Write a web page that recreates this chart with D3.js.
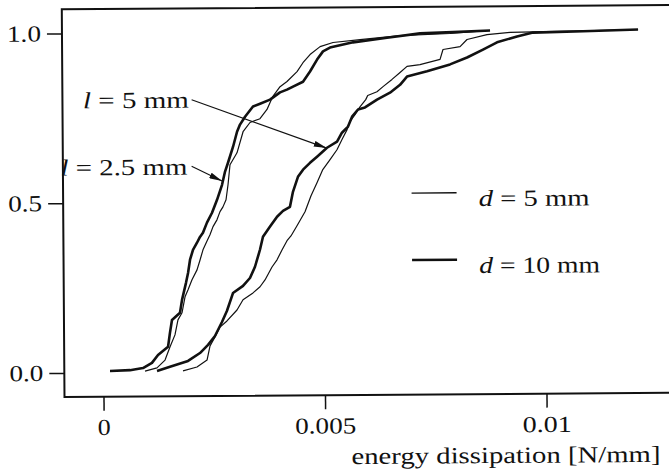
<!DOCTYPE html>
<html>
<head>
<meta charset="utf-8">
<script src="https://cdn.jsdelivr.net/npm/d3@7"></script>
<style>
  body { margin: 0; background: #fff; }
  svg { display: block; }
  text { font-family: "Liberation Serif", serif; font-size: 23px; fill: #111; }
</style>
</head>
<body>
<div id="chart"></div>
<script>
// cumulative distributions of energy dissipation, l = 2.5 / 5 mm, d = 5 / 10 mm

// points: [energy dissipation (N/mm), cumulative fraction]
var l25_d10 = [[0.000151,0.005],[0.000603,0.007],[0.000896,0.013],[0.001099,0.028],[0.001237,0.051],[0.001465,0.075],[0.001510,0.116],[0.001558,0.154],[0.001740,0.175],[0.001788,0.213],[0.001880,0.263],[0.001928,0.292],[0.001975,0.331],[0.002043,0.360],[0.002135,0.381],[0.002203,0.398],[0.002271,0.410],[0.002363,0.440],[0.002479,0.469],[0.002594,0.507],[0.002709,0.551],[0.002779,0.590],[0.002847,0.616],[0.002964,0.663],[0.003056,0.707],[0.003124,0.728],[0.003239,0.751],[0.003420,0.781],[0.003580,0.789],[0.003806,0.801],[0.004032,0.822],[0.004190,0.830],[0.004327,0.839],[0.004553,0.853],[0.004713,0.883],[0.004874,0.918],[0.005009,0.942],[0.005167,0.953],[0.005688,0.968],[0.006456,0.981],[0.007201,0.993],[0.007946,0.996],[0.008783,1.0]];

var l25_d5 = [[0.000941,0.004],[0.001212,0.013],[0.001395,0.036],[0.001510,0.075],[0.001623,0.110],[0.001693,0.154],[0.001786,0.175],[0.001856,0.222],[0.001923,0.242],[0.002016,0.272],[0.002131,0.301],[0.002201,0.330],[0.002269,0.360],[0.002361,0.386],[0.002429,0.404],[0.002499,0.428],[0.002589,0.448],[0.002659,0.472],[0.002727,0.486],[0.002797,0.507],[0.002844,0.551],[0.002892,0.610],[0.003052,0.645],[0.003192,0.707],[0.003350,0.734],[0.003576,0.745],[0.003736,0.772],[0.003867,0.810],[0.004034,0.839],[0.004192,0.854],[0.004420,0.883],[0.004555,0.909],[0.004716,0.933],[0.004944,0.956],[0.005237,0.968],[0.005847,0.976],[0.006749,0.987],[0.007878,0.992],[0.008781,1.0]];

var l5_d10 = [[0.001212,0.004],[0.001506,0.016],[0.001914,0.033],[0.002185,0.056],[0.002368,0.080],[0.002526,0.106],[0.002686,0.147],[0.002801,0.180],[0.002939,0.232],[0.003167,0.253],[0.003325,0.276],[0.003440,0.309],[0.003555,0.359],[0.003625,0.397],[0.003786,0.427],[0.003946,0.456],[0.004081,0.473],[0.004239,0.485],[0.004309,0.529],[0.004424,0.573],[0.004540,0.594],[0.004698,0.614],[0.004858,0.632],[0.005084,0.658],[0.005312,0.676],[0.005424,0.702],[0.005562,0.720],[0.005655,0.749],[0.005790,0.770],[0.005948,0.776],[0.006221,0.799],[0.006515,0.819],[0.006743,0.842],[0.006901,0.866],[0.007354,0.881],[0.007874,0.901],[0.008260,0.921],[0.008621,0.944],[0.008939,0.965],[0.009391,0.982],[0.009752,0.993],[0.010883,0.996],[0.012124,1.0]];

var l5_d5 = [[0.001799,0.004],[0.002115,0.015],[0.002343,0.035],[0.002413,0.077],[0.002526,0.103],[0.002641,0.132],[0.002799,0.150],[0.003027,0.182],[0.003165,0.212],[0.003391,0.232],[0.003551,0.250],[0.003664,0.270],[0.003824,0.308],[0.003939,0.329],[0.004052,0.358],[0.004167,0.385],[0.004257,0.399],[0.004395,0.429],[0.004578,0.470],[0.004716,0.517],[0.004853,0.555],[0.004986,0.594],[0.005151,0.623],[0.005309,0.652],[0.005424,0.682],[0.005540,0.711],[0.005607,0.735],[0.005722,0.755],[0.005835,0.778],[0.005966,0.799],[0.006011,0.811],[0.006221,0.822],[0.006359,0.837],[0.006562,0.858],[0.006745,0.878],[0.006903,0.896],[0.007196,0.901],[0.007650,0.916],[0.007718,0.945],[0.008104,0.953],[0.008262,0.974],[0.008713,0.988],[0.009233,0.994],[0.009752,0.995],[0.010883,0.997],[0.012124,1.0]];

var xTicks = [0, 0.005, 0.01];
var xTickLabels = ["0", "0.005", "0.01"];
var yTicks = [0, 0.5, 1];
var yTickLabels = ["0.0", "0.5", "1.0"];

var legendLabels = ["5 mm", "10 mm"];   // d = ...

// arrows from the l labels to the curves, [x, y] in data units
var noteLabels = ["5 mm", "2.5 mm"];   // l = ...
var noteFrom = [[0.002036, 0.802], [0.002025, 0.606]];
var noteTo = [[0.005077, 0.657], [0.00271, 0.562]];

var width = 669, height = 472;
var frameLeft = 64.5, frameTop = 9.3, frameBottom = 397;

// the scan uses a wide schoolbook face, so stretch the serif to its widths
var textW = { "0": 13, "0.005": 61, "0.01": 49, "0.0": 34, "0.5": 34, "1.0": 34 };

var svg = d3.select("#chart").append("svg")
    .attr("width", width)
    .attr("height", height);

svg.append("defs").append("marker")
    .attr("id", "head")
    .attr("viewBox", "0 0 13 6")
    .attr("refX", 13).attr("refY", 3)
    .attr("markerWidth", 13).attr("markerHeight", 6)
    .attr("markerUnits", "userSpaceOnUse")
    .attr("orient", "auto")
    .append("path").attr("d", "M0,0L13,3L0,6Z").attr("fill", "#111");

// the scan is a little tilted
var g = svg.append("g").attr("transform", "rotate(-0.4, 64, 397)");

var x = d3.scaleLinear().domain([0, 0.01]).range([103.5, 546.5]);
var y = d3.scaleLinear().domain([0, 1]).range([373, 33.5]);

// frame: left, top, bottom
g.append("path")
    .attr("d", `M${width + 10},${frameTop}H${frameLeft}V${frameBottom}H${width + 10}`)
    .attr("fill", "none").attr("stroke", "#111").attr("stroke-width", 2);

function styleTicks(a) {
    a.select(".domain").remove();
    a.selectAll("line").attr("stroke", "#111").attr("stroke-width", 1.5);
    a.selectAll("text")
        .attr("font-family", "Liberation Serif").attr("font-size", 23).attr("fill", "#111")
        .attr("textLength", function() { return textW[this.textContent]; })
        .attr("lengthAdjust", "spacingAndGlyphs");
}

// x axis ticks
var xAxis = d3.axisBottom(x).tickValues(xTicks)
    .tickFormat((d, i) => xTickLabels[i]).tickSize(14).tickPadding(8);
g.append("g").attr("transform", `translate(0,${frameBottom})`).call(xAxis).call(styleTicks);

// y axis ticks
var yAxis = d3.axisLeft(y).tickValues(yTicks)
    .tickFormat((d, i) => yTickLabels[i]).tickSize(15).tickPadding(6);
g.append("g").attr("transform", `translate(${frameLeft},0)`).call(yAxis).call(styleTicks);

g.append("text")
    .attr("x", 660).attr("y", 466)
    .attr("text-anchor", "end")
    .attr("textLength", 309).attr("lengthAdjust", "spacingAndGlyphs")
    .text("energy dissipation [N/mm]");

var line = d3.line().x(d => x(d[0])).y(d => y(d[1]));

var series = [
    { data: l25_d5, w: 1.2 },
    { data: l5_d5, w: 1.2 },
    { data: l25_d10, w: 2.6 },
    { data: l5_d10, w: 2.6 }
];

g.selectAll(".curve")
    .data(series)
    .join("path")
    .attr("class", "curve")
    .attr("d", d => line(d.data))
    .attr("fill", "none")
    .attr("stroke", "#111")
    .attr("stroke-width", d => d.w)
    .attr("stroke-linejoin", "round");

// legend
var legendW = [1.3, 2.6];
var legendY = [195.5, 262.5];
var legendLen = [111, 121];
legendLabels.forEach(function(lab, i) {
    g.append("line")
        .attr("x1", 413).attr("x2", 458)
        .attr("y1", legendY[i]).attr("y2", legendY[i])
        .attr("stroke", "#111").attr("stroke-width", legendW[i]);
    var t = g.append("text").attr("x", 480).attr("y", legendY[i] + 13.5)
        .attr("textLength", legendLen[i]).attr("lengthAdjust", "spacingAndGlyphs");
    t.append("tspan").attr("font-style", "italic").text("d");
    t.append("tspan").text(" = " + lab);
});

// l labels with arrows
var notePos = [[85, 108.5], [62, 175.5]];
var noteLen = [106, 127];
noteLabels.forEach(function(lab, i) {
    var t = g.append("text").attr("x", notePos[i][0]).attr("y", notePos[i][1])
        .attr("textLength", noteLen[i]).attr("lengthAdjust", "spacingAndGlyphs");
    t.append("tspan").attr("font-style", "italic").text("l");
    t.append("tspan").text(" = " + lab);
    g.append("line")
        .attr("x1", x(noteFrom[i][0])).attr("y1", y(noteFrom[i][1]))
        .attr("x2", x(noteTo[i][0])).attr("y2", y(noteTo[i][1]))
        .attr("stroke", "#111").attr("stroke-width", 1.1)
        .attr("marker-end", "url(#head)");
});
</script>
</body>
</html>
